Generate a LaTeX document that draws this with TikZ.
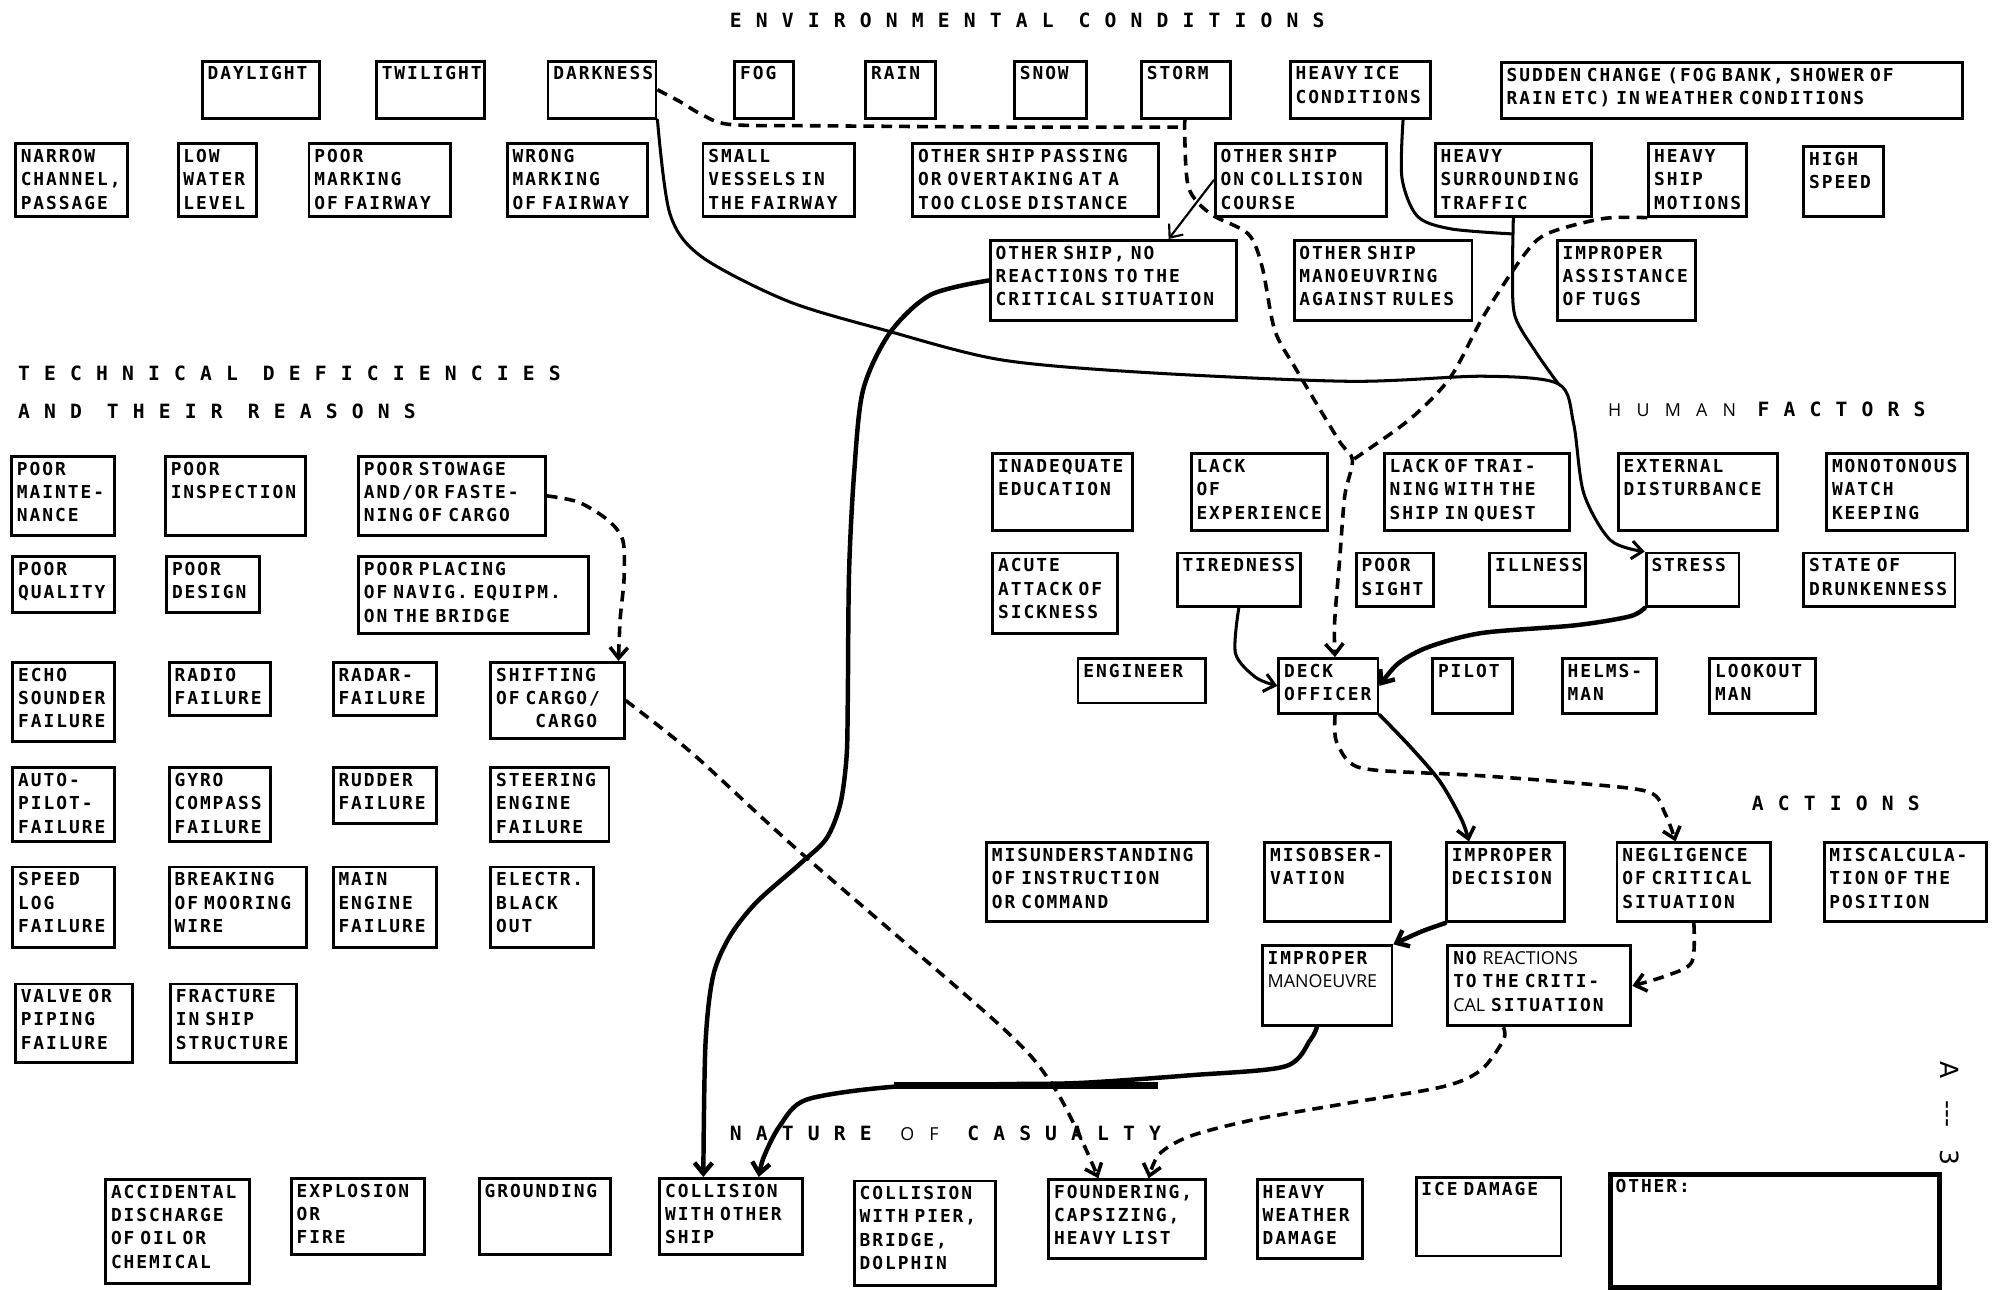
\documentclass[tikz,border=0pt]{standalone}
\usepackage{fontspec}
\usepackage{tikz}
\usetikzlibrary{arrows.meta}
\newfontfamily\boxfont{DejaVu Sans Mono}[LetterSpace=11]
\newfontfamily\headfont{DejaVu Sans Mono}[LetterSpace=72]
\newfontfamily\thinfont{Open Sans}
\newfontfamily\thinhead{Open Sans}[LetterSpace=85]
\newfontfamily\pagefont{DejaVu Sans}

\begin{document}
\begin{tikzpicture}[x=0.025cm,y=-0.025cm,>={Straight Barb[length=6pt,width=10pt]},
  box/.style 2 args={draw,line width=1.6pt,anchor=north west,align=left,
    inner xsep=3pt,inner ysep=3pt,text width=#1*0.025cm-6pt,
    text height=7.5pt,text depth=#2*0.025cm-13.5pt,
    font=\boxfont\bfseries\fontsize{10}{13}\selectfont},
  head/.style={anchor=west,inner sep=0pt,font=\headfont\bfseries\fontsize{11}{13}\selectfont},
  link/.style={line width=1.7pt,line cap=round,line join=round},
  heavy/.style={link,line width=2.5pt},
  dashlink/.style={line width=2pt,dash pattern=on 6pt off 4pt}]
  \fill[white] (0,0) rectangle (1568,1014);

  \node[head] (envhead) at (574,16) {ENVIRONMENTAL\hspace{14pt}CONDITIONS};
  \node[head] (techhead) at (14,294) {TECHNICAL\hspace{14pt}DEFICIENCIES};
  \node[head] (techhead2) at (14,324) {AND\hspace{14pt}THEIR\hspace{14pt}REASONS};
  \node[head] (humanhead) at (1265,322) {{\thinhead\mdseries\fontsize{10}{12}\selectfont HUMAN}\hspace{12pt}FACTORS};
  \node[head] (actionhead) at (1378,632) {ACTIONS};
  \node[head] (casualtyhead) at (574,892) {NATURE\hspace{16pt}{\thinhead\mdseries\fontsize{10}{12}\selectfont OF}\hspace{16pt}CASUALTY};
  \node[font=\pagefont\fontsize{14}{16}\selectfont,rotate=-90,inner sep=0pt] (pagenum) at (1534,876) {A\hspace{12pt}---\hspace{12pt}3};

  \foreach \nm/\x/\y/\w/\h/\txt in {
    daylight/158/47/92/45/DAYLIGHT, twilight/295/47/85/45/TWILIGHT,
    darkness/430/47/85/45/DARKNESS, fog/577/47/46/45/FOG,
    rain/680/47/55/45/RAIN, snow/797/47/57/45/SNOW, storm/897/47/70/45/STORM,
    heavyice/1014/47/110/45/{HEAVY ICE\\CONDITIONS},
    sudden/1180/48/363/44/{SUDDEN CHANGE (FOG BANK, SHOWER OF\\RAIN ETC) IN WEATHER CONDITIONS},
    narrow/11/112/88/57/{NARROW\\CHANNEL,\\PASSAGE},
    lowwater/139/112/62/57/{LOW\\WATER\\LEVEL},
    poormark/242/112/111/57/{POOR\\MARKING\\OF FAIRWAY},
    wrongmark/398/112/110/57/{WRONG\\MARKING\\OF FAIRWAY},
    smallves/552/112/119/57/{SMALL\\VESSELS IN\\THE FAIRWAY},
    passing/717/112/193/57/{OTHER SHIP PASSING\\OR OVERTAKING AT A\\TOO CLOSE DISTANCE},
    collcourse/955/112/135/57/{OTHER SHIP\\ON COLLISION\\COURSE},
    traffic/1128/112/123/57/{HEAVY\\SURROUNDING\\TRAFFIC},
    motions/1296/112/77/57/{HEAVY\\SHIP\\MOTIONS},
    highspeed/1418/114/63/55/{HIGH\\SPEED},
    noreact/778/188/194/63/{OTHER SHIP, NO\\REACTIONS TO THE\\CRITICAL SITUATION},
    againstrules/1017/188/140/63/{OTHER SHIP\\MANOEUVRING\\AGAINST RULES},
    tugs/1224/188/109/63/{IMPROPER\\ASSISTANCE\\OF TUGS},
    poormaint/8/358/81/62/{POOR\\MAINTE-\\NANCE},
    poorinsp/129/358/110/62/{POOR\\INSPECTION},
    stowage/281/358/147/62/{POOR STOWAGE\\AND/OR FASTE-\\NING OF CARGO},
    poorqual/9/437/80/44/{POOR\\QUALITY},
    poordesign/130/437/73/44/{POOR\\DESIGN},
    placing/281/437/181/60/{POOR PLACING\\OF NAVIG. EQUIPM.\\ON THE BRIDGE},
    echo/9/520/80/62/{ECHO\\SOUNDER\\FAILURE},
    radio/132/520/80/42/{RADIO\\FAILURE},
    radar/261/520/81/42/{RADAR-\\FAILURE},
    shifting/385/520/105/60/{SHIFTING\\OF CARGO/\\\hspace*{2.2em}CARGO},
    autopilot/9/603/80/58/{AUTO-\\PILOT-\\FAILURE},
    gyro/132/603/80/58/{GYRO\\COMPASS\\FAILURE},
    rudder/261/603/81/44/{RUDDER\\FAILURE},
    steering/385/603/93/58/{STEERING\\ENGINE\\FAILURE},
    speedlog/9/681/80/63/{SPEED\\LOG\\FAILURE},
    mooring/132/681/108/63/{BREAKING\\OF MOORING\\WIRE},
    mainengine/261/681/81/63/{MAIN\\ENGINE\\FAILURE},
    blackout/385/681/81/63/{ELECTR.\\BLACK\\OUT},
    valve/11/773/92/62/{VALVE OR\\PIPING\\FAILURE},
    fracture/133/773/99/62/{FRACTURE\\IN SHIP\\STRUCTURE},
    education/780/356/110/60/{INADEQUATE\\EDUCATION},
    experience/936/356/107/60/{LACK\\OF\\EXPERIENCE},
    training/1088/356/146/60/{LACK OF TRAI-\\NING WITH THE\\SHIP IN QUEST},
    disturbance/1272/356/125/60/{EXTERNAL\\DISTURBANCE},
    monotonous/1436/356/111/60/{MONOTONOUS\\WATCH\\KEEPING},
    sickness/780/434/98/63/{ACUTE\\ATTACK OF\\SICKNESS},
    tiredness/925/434/97/42/TIREDNESS,
    poorsight/1066/434/61/42/{POOR\\SIGHT},
    illness/1171/434/75/42/ILLNESS,
    stress/1294/434/73/42/STRESS,
    drunkenness/1418/434/119/42/{STATE OF\\DRUNKENNESS},
    engineer/847/517/100/35/ENGINEER,
    deckofficer/1005/517/78/43/{DECK\\OFFICER},
    pilot/1126/517/63/43/PILOT,
    helmsman/1228/517/74/43/{HELMS-\\MAN},
    lookout/1344/517/83/43/{LOOKOUT\\MAN},
    misunderstanding/775/662/174/62/{MISUNDERSTANDING\\OF INSTRUCTION\\OR COMMAND},
    misobservation/994/662/99/62/{MISOBSER-\\VATION},
    decision/1137/662/93/62/{IMPROPER\\DECISION},
    negligence/1271/662/121/62/{NEGLIGENCE\\OF CRITICAL\\SITUATION},
    miscalc/1434/662/128/62/{MISCALCULA-\\TION OF THE\\POSITION},
    manoeuvre/992/743/102/63/{IMPROPER\\{\thinfont\mdseries MANOEUVRE}},
    noreaction/1138/743/144/63/{NO {\thinfont\mdseries REACTIONS}\\TO THE CRITI-\\{\thinfont\mdseries CAL} SITUATION},
    discharge/82/927/113/82/{ACCIDENTAL\\DISCHARGE\\OF OIL OR\\CHEMICAL},
    explosion/228/926/105/60/{EXPLOSION\\OR\\FIRE},
    grounding/376/926/103/60/GROUNDING,
    collship/518/926/112/60/{COLLISION\\WITH OTHER\\SHIP},
    collpier/671/928/111/82/{COLLISION\\WITH PIER,\\BRIDGE,\\DOLPHIN},
    foundering/824/927/123/62/{FOUNDERING,\\CAPSIZING,\\HEAVY LIST},
    heavyweather/988/927/83/62/{HEAVY\\WEATHER\\DAMAGE},
    icedamage/1113/925/114/62/{ICE DAMAGE}}
    \node[box={\w}{\h}] (\nm) at (\x,\y) {\txt};
  \node[box={259}{89},line width=2.6pt] (other) at (1265,922) {OTHER:};

  \coordinate (jstorm) at (932,100);
  \coordinate (jtraffic) at (1189,184);
  \coordinate (jstress) at (1226,302);
  \coordinate (jdeck) at (1064,362);

  \draw[link,->] plot[smooth] coordinates {(darkness.south east) (527,168) (552,202) (620,237) (697,260) (787,283) (900,293) (1062,300) (1167,296) (jstress) (1238,333) (1246,388) (1267,425) (stress.north west)};
  \draw[link] plot[smooth] coordinates {(traffic.south) (1190,215) (1192,249) (1209,278) (jstress)};
  \draw[link] plot[smooth] coordinates {(heavyice.-35) (1103,140) (1115,170) (1141,180) (jtraffic)};
  \draw[dashlink] plot[smooth] coordinates {(darkness.east) (535,80) (552,90) (575,98) (650,99) (800,100) (jstorm)};
  \draw[dashlink,->] plot[smooth] coordinates {(storm.south) (jstorm) (935,147) (952,168) (982,184) (993,210) (1003,260) (1020,291) (1053,346) (jdeck) (1058,390) (1054,440) (1050,490) (deckofficer.77)};
  \draw[dashlink] plot[smooth] coordinates {(motions.south west) (1261,172) (1217,184) (1198,202) (1167,249) (1141,297) (1109,330) (jdeck)};
  \draw[link,->,line width=1.2pt] (collcourse.west) -- (noreact.37);
  \draw[heavy,->] plot[smooth] coordinates {(noreact.west) (732,232) (700,262) (679,307) (672,372) (668,450) (667,551) (666,596) (661,633) (650,660) (629,680) (595,710) (574,737) (561,768) (555,822) (collship.125)};
  \draw[dashlink,->] plot[smooth] coordinates {(stowage.east) (455,395) (478,409) (490,425) (491,455) (488,486) (shifting.33)};
  \draw[dashlink,->] plot[smooth] coordinates {(shifting.east) (545,593) (629,670) (787,807) (827,852) (851,897) (foundering.125)};
  \draw[heavy,->] plot[smooth] coordinates {(stress.south west) (1282,485) (1239,492) (1166,498) (1124,509) (1100,522) (deckofficer.east)};
  \draw[link,->] plot[smooth] coordinates {(tiredness.south) (972,514) (988,533) (deckofficer.west)};
  \draw[link,->,line width=2pt] plot[smooth] coordinates {(deckofficer.south east) (1110,588) (1133,615) (1150,645) (decision.132)};
  \draw[dashlink,->] plot[smooth] coordinates {(deckofficer.-77) (1051,582) (1062,600) (1083,606) (1160,610) (1239,616) (1297,623) (1310,640) (negligence.114)};
  \draw[heavy,->] plot[smooth] coordinates {(decision.south west) (1118,733) (manoeuvre.north east)};
  \draw[dashlink,->] plot[smooth] coordinates {(negligence.south) (1331,757) (1310,768) (noreaction.east)};
  \draw[heavy,->] plot[smooth] coordinates {(manoeuvre.-104) (1031,818) (1011,839) (936,846) (850,852) (787,853) (703,855) (635,865) (614,885) (601,910) (collship.55)};
  \draw[line width=3.5pt] (703,854) -- (911,854);
  \draw[dashlink,->] plot[smooth] coordinates {(noreaction.-131) (1183,818) (1165,842) (1135,855) (1060,868) (986,881) (936,894) (912,908) (foundering.62)};
\end{tikzpicture}
\end{document}
